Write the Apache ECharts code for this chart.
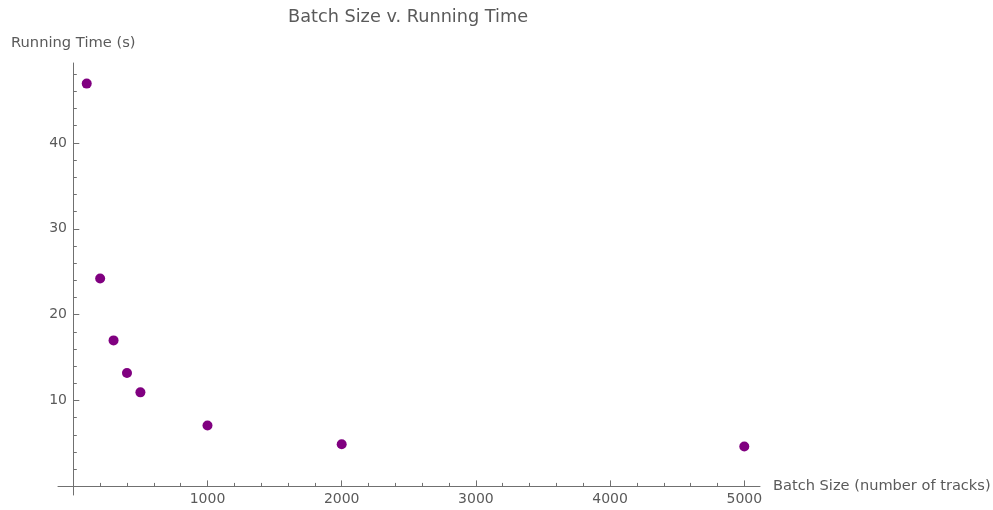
<!DOCTYPE html>
<html><head><meta charset="utf-8">
<script src="https://cdn.jsdelivr.net/npm/echarts@6/dist/echarts.min.js"></script>
<style>html,body{margin:0;padding:0;background:#fff}#c{width:993px;height:510px}</style>
</head><body><div id="c"></div>
<script>
const batchSizes = [100, 200, 300, 400, 500, 1000, 2000, 5000];
const runningTimes = [46.9, 24.2, 17.0, 13.2, 10.95, 7.1, 4.9, 4.65];
const xMajorTicks = [1000, 2000, 3000, 4000, 5000];
const xMinorTicks = [200,400,600,800,1200,1400,1600,1800,2200,2400,2600,2800,3200,3400,3600,3800,4200,4400,4600,4800];
const yMajorTicks = [10, 20, 30, 40];
const yMinorTicks = [2,4,6,8,12,14,16,18,22,24,26,28,32,34,36,38,42,44,46,48];
const titleText = 'Batch Size v. Running Time';
const xName = 'Batch Size (number of tracks)';
const yName = 'Running Time (s)';

const font = 'DejaVu Sans, sans-serif';
const axisColor = '#707070';
const labelColor = '#5a5a5a';
const xMin = -114, xMax = 5117, yMin = -1, yMax = 49.3;

const chart = echarts.init(document.getElementById('c'));
const baseX = {type:'value', min:xMin, max:xMax, splitLine:{show:false}, gridIndex:0};
const baseY = {type:'value', min:yMin, max:yMax, splitLine:{show:false}, gridIndex:0};
chart.setOption({
  animation:false,
  title:{text:titleText, left:283, top:3,
    textStyle:{fontFamily:font, fontSize:17.7, fontWeight:'normal', color:'#5a5a5a'}},
  grid:{left:58, right:233, top:63, bottom:15, outerBoundsMode:'none', containLabel:false},
  xAxis:[
    Object.assign({}, baseX, {
      position:'bottom',
      axisLine:{onZero:true, lineStyle:{color:axisColor, width:1}},
      axisTick:{inside:true, length:6, customValues:xMajorTicks, lineStyle:{color:axisColor}},
      axisLabel:{customValues:xMajorTicks, formatter:v=>String(v), color:labelColor, fontFamily:font, fontSize:14, margin:-3},
      name:xName, nameLocation:'end', nameGap:13,
      nameTextStyle:{fontFamily:font, fontSize:14.6, color:labelColor, padding:[3,0,0,0]}
    }),
    Object.assign({}, baseX, {
      position:'top',
      axisLine:{show:false, onZero:true},
      axisTick:{inside:false, length:3.5, customValues:xMinorTicks, lineStyle:{color:axisColor}},
      axisLabel:{show:false}
    })
  ],
  yAxis:[
    Object.assign({}, baseY, {
      position:'left',
      axisLine:{onZero:true, lineStyle:{color:axisColor, width:1}},
      axisTick:{inside:true, length:6, customValues:yMajorTicks, lineStyle:{color:axisColor}},
      axisLabel:{customValues:yMajorTicks, formatter:v=>String(v), color:labelColor, fontFamily:font, fontSize:14, margin:-9},
      name:yName, nameLocation:'end', nameGap:12,
      nameTextStyle:{fontFamily:font, fontSize:14.7, color:labelColor, align:'center', padding:[0,0,0,0]}
    }),
    Object.assign({}, baseY, {
      position:'right',
      axisLine:{show:false, onZero:true},
      axisTick:{inside:false, length:3.5, customValues:yMinorTicks, lineStyle:{color:axisColor}},
      axisLabel:{show:false}
    })
  ],
  series:[{
    type:'scatter', xAxisIndex:0, yAxisIndex:0,
    data: batchSizes.map((b,i)=>[b, runningTimes[i]]),
    symbolSize:10, itemStyle:{color:'#800080', opacity:1}
  }]
});
</script></body></html>
